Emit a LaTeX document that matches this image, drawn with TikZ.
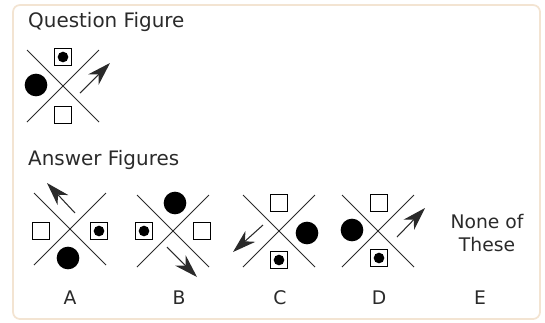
\documentclass[tikz,border=0pt]{standalone}
\usepackage{fontspec}
\setmainfont{DejaVu Sans}
\usetikzlibrary{arrows.meta}
\definecolor{framebeige}{HTML}{F3E4D2}
\definecolor{inkgrey}{HTML}{2A2A2A}
\begin{document}
\begin{tikzpicture}[x=0.03cm, y=-0.03cm,
  cross/.style={draw=inkgrey, line width=0.8pt},
  sq/.style={draw=black, line width=1pt, minimum size=0.52cm, inner sep=0pt},
  dsq/.style={sq, path picture={\fill (path picture bounding box.center) circle (0.16cm);}},
  bigdot/.style={circle, fill=black, minimum size=0.68cm, inner sep=0pt},
  pointer/.style={draw=inkgrey, line width=0.9pt, -{Stealth[length=0.7cm, width=0.44cm, inset=0.22cm]}},
  caption/.style={text=inkgrey, font=\fontsize{17}{20}\selectfont, anchor=west, inner sep=0pt},
  letter/.style={text=inkgrey, font=\fontsize{16}{19.6}\selectfont, inner sep=0pt}]
\useasboundingbox (0,0) rectangle (545,322);
\draw[framebeige, line width=1.5pt, rounded corners=6pt] (13,5) rectangle (540,319);

% question figure
\node[caption] (qtitle) at (28,22) {Question Figure};
\coordinate (qc) at (63,86);
\draw[cross] (qc) ++(-36,-36) -- ++(72,72);
\draw[cross] (qc) ++(-36,36) -- ++(72,-72);
\node[dsq] (qtop) at (63,57) {};
\node[sq] (qbot) at (63,115) {};
\node[bigdot] (qleft) at (36,85) {};
\coordinate (qa1) at (80,93);
\coordinate (qa2) at (110,63);
\draw[pointer] (qa1) -- (qa2);

% answer figures
\node[caption] (atitle) at (28,160) {Answer Figures};

% A
\coordinate (ac) at (70,229);
\draw[cross] (ac) ++(-36,-36) -- ++(72,72);
\draw[cross] (ac) ++(-36,36) -- ++(72,-72);
\node[sq] (aleft) at (41,231) {};
\node[dsq] (aright) at (99,231) {};
\node[bigdot] (abot) at (68,258) {};
\coordinate (aa1) at (75,213);
\coordinate (aa2) at (47,183);
\draw[pointer] (aa1) -- (aa2);
\node[letter] (alabel) at (70,298) {A};

% B
\coordinate (bc) at (173,231);
\draw[cross] (bc) ++(-36,-36) -- ++(72,72);
\draw[cross] (bc) ++(-36,36) -- ++(72,-72);
\node[bigdot] (btop) at (175,203) {};
\node[dsq] (bleft) at (144,231) {};
\node[sq] (bright) at (202,231) {};
\coordinate (ba1) at (167,247);
\coordinate (ba2) at (197,277);
\draw[pointer] (ba1) -- (ba2);
\node[letter] (blabel) at (179,298) {B};

% C
\coordinate (cc) at (279,231);
\draw[cross] (cc) ++(-36,-36) -- ++(72,72);
\draw[cross] (cc) ++(-36,36) -- ++(72,-72);
\node[sq] (ctop) at (279,203) {};
\node[dsq] (cbot) at (279,260) {};
\node[bigdot] (cright) at (307,233) {};
\coordinate (ca1) at (263,225);
\coordinate (ca2) at (233,252);
\draw[pointer] (ca1) -- (ca2);
\node[letter] (clabel) at (280,298) {C};

% D
\coordinate (dc) at (378,231);
\draw[cross] (dc) ++(-36,-36) -- ++(72,72);
\draw[cross] (dc) ++(-36,36) -- ++(72,-72);
\node[sq] (dtop) at (379,203) {};
\node[dsq] (dbot) at (379,258) {};
\node[bigdot] (dleft) at (352,230) {};
\coordinate (da1) at (397,237);
\coordinate (da2) at (425,208);
\draw[pointer] (da1) -- (da2);
\node[letter] (dlabel) at (379,298) {D};

% E
\node[letter, align=center] (enone) at (487,233) {None of\\These};
\node[letter] (elabel) at (480,298) {E};
\end{tikzpicture}
\end{document}
